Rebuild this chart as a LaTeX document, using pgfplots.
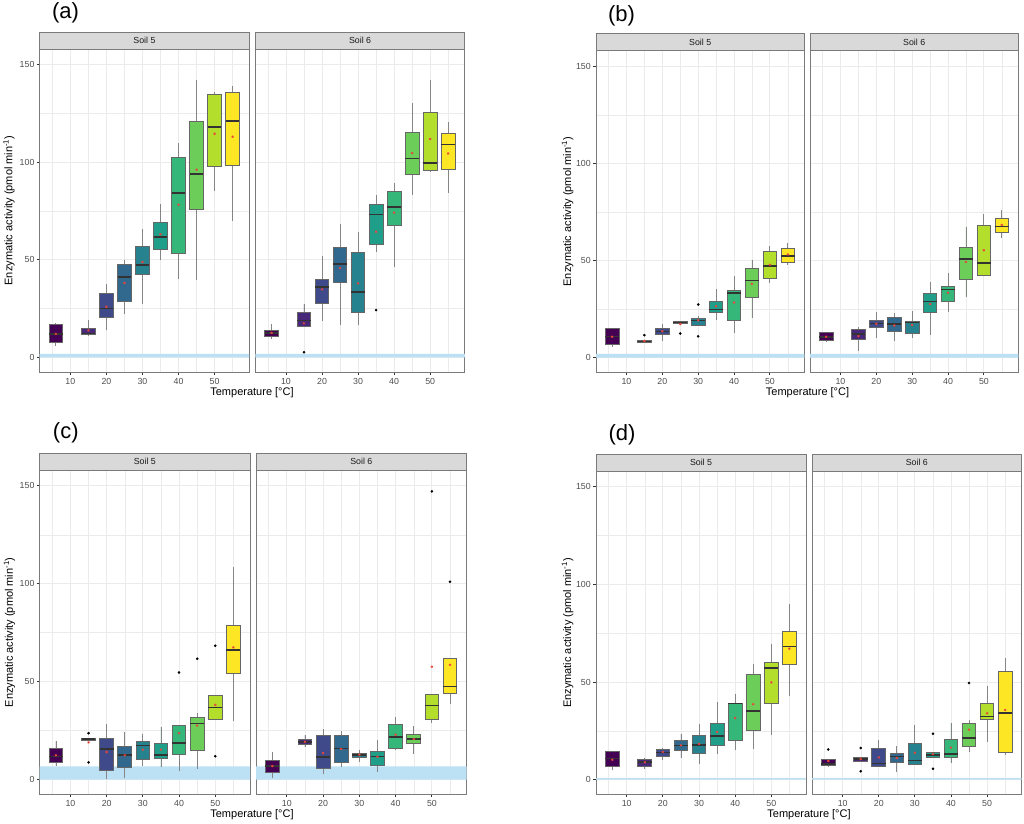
\documentclass[border=0pt]{standalone}
\usepackage{pgfplots}
\pgfplotsset{compat=1.18}
\usepgfplotslibrary{statistics}
\usepackage{fontspec}
\setmainfont{Liberation Sans}
\definecolor{v1}{HTML}{440154}
\definecolor{v2}{HTML}{482878}
\definecolor{v3}{HTML}{3E4A89}
\definecolor{v4}{HTML}{31688E}
\definecolor{v5}{HTML}{26828E}
\definecolor{v6}{HTML}{1F9E89}
\definecolor{v7}{HTML}{35B779}
\definecolor{v8}{HTML}{6DCD59}
\definecolor{v9}{HTML}{B4DE2C}
\definecolor{v10}{HTML}{FDE725}
\definecolor{gridc}{HTML}{EBEBEB}
\definecolor{framec}{HTML}{7A7A7A}
\definecolor{stripc}{HTML}{D9D9D9}
\definecolor{boxc}{HTML}{666666}
\definecolor{whc}{HTML}{858585}
\definecolor{medc}{HTML}{333333}
\definecolor{tickc}{HTML}{4D4D4D}
\definecolor{bandc}{HTML}{BDE1F4}
\definecolor{meanc}{HTML}{E8443A}
\pgfplotsset{
 facet/.style={
  scale only axis, width=209.5pt,
  xmin=1.5, xmax=59.6, ymin=-7.5, ymax=157.9,
  xtick={10,20,30,40,50}, ytick={0,50,100,150},
  minor xtick={5,15,25,35,45,55}, minor ytick={25,75,125},
  grid=both,
  major grid style={draw=gridc, line width=0.9pt},
  minor grid style={draw=gridc, line width=0.45pt},
  axis line style={draw=framec, line width=0.9pt},
  tick align=outside, xtick pos=bottom, ytick pos=left,
  major tick length=2.75pt, minor tick length=0pt,
  tick style={draw=medc, line width=0.8pt},
  ticklabel style={font=\fontsize{8.8}{10}\selectfont, text=tickc},
  yticklabel style={xshift=1pt},
  /pgf/number format/assume math mode=true,
  boxplot/draw direction=y,
  boxplot/box extend=3.8,
  boxplot/whisker extend=0,
  boxplot/every whisker/.style={draw=whc},
  boxplot/every median/.style={draw=medc, line width=1.6pt},
 },
 rightfacet/.style={yticklabel={\mbox{}}, ytick style={draw=none}},
}
\newcommand{\bx}[7]{\addplot[boxplot prepared={draw position=#1, lower whisker=#3, lower quartile=#4, median=#5, upper quartile=#6, upper whisker=#7}, fill=#2, draw=boxc, line width=0.9pt] coordinates {};}
\newcommand{\band}[1]{\addplot[draw=none, fill=bandc] coordinates {(1.5,0) (59.6,0) (59.6,#1) (1.5,#1) (1.5,0)};}
\newcommand{\means}[1]{\addplot[only marks, mark=asterisk, mark size=1.3pt, draw=meanc, line width=0.5pt] coordinates {#1};}
\newcommand{\outl}[1]{\addplot[only marks, mark=*, mark size=1.1pt, draw=black, fill=black] coordinates {#1};}
\newcommand{\strip}[2]{\draw[fill=stripc, draw=framec, line width=0.9pt] (#1.north west) rectangle ([yshift=17pt]#1.north east);
 \node[font=\fontsize{8.8}{10}\selectfont, text=black!90] at ([yshift=8.5pt]#1.north) {#2};}
\newcommand{\ylab}{Enzymatic activity (pmol min\textsuperscript{-1})}
\begin{document}
\begin{tikzpicture}
\path[use as bounding box] (0pt,0pt) rectangle (1024pt,823pt);
% ---------------- (a) ----------------
\begin{axis}[facet, name=aS5, height=323pt, at={(39.7pt,451pt)}, anchor=south west]
\band{1.8}
\bx{6}{v1}{6.0}{7.7}{12.1}{16.9}{17.4}
\bx{15}{v2}{10.9}{11.8}{12.3}{15.0}{18.9}
\bx{20}{v3}{13.8}{20.5}{25.1}{32.6}{37.4}
\bx{25}{v4}{22.2}{28.8}{41.1}{47.6}{49.7}
\bx{30}{v5}{27.5}{42.3}{47.3}{57.0}{65.7}
\bx{35}{v6}{50.0}{55.5}{61.6}{69.3}{78.3}
\bx{40}{v7}{39.9}{53.2}{84.3}{102.6}{109.7}
\bx{45}{v8}{39.6}{75.8}{94.0}{120.8}{142.1}
\bx{50}{v9}{85.0}{97.8}{118.1}{134.8}{136.1}
\bx{55}{v10}{70.0}{98.3}{121.1}{135.6}{139.2}
\means{(6,12) (15,13.8) (20,25.9) (25,38.1) (30,48.8) (35,63.0) (40,78.2) (45,96.1) (50,114.5) (55,113.0)}
\end{axis}
\strip{aS5}{Soil 5}
\begin{axis}[facet, rightfacet, name=aS6, height=323pt, at={(255.3pt,451pt)}, anchor=south west]
\band{1.8}
\bx{6}{v1}{9.2}{10.8}{12.5}{13.8}{16.9}
\bx{15}{v2}{16.0}{16.0}{18.8}{23.0}{27.1}
\bx{20}{v3}{18.6}{27.5}{36.0}{40.1}{51.7}
\bx{25}{v4}{16.4}{38.4}{47.8}{56.1}{68.1}
\bx{30}{v5}{16.4}{23.2}{33.6}{53.8}{64.0}
\bx{35}{v6}{53.9}{57.8}{73.2}{78.3}{83.3}
\bx{40}{v7}{46.1}{67.4}{77.1}{84.7}{89.3}
\bx{45}{v8}{83.3}{93.9}{101.9}{115.2}{130.2}
\bx{50}{v9}{95.1}{95.7}{99.5}{125.4}{142.2}
\bx{55}{v10}{84.2}{96.4}{109.0}{114.8}{120.4}
\outl{(15,2.6) (35,24.2)}
\means{(6,12.5) (15,17.4) (20,34.8) (25,45.7) (30,37.9) (35,64.3) (40,74.1) (45,104.6) (50,111.8) (55,104.4)}
\end{axis}
\strip{aS6}{Soil 6}
% ---------------- (b) ----------------
\begin{axis}[facet, name=bS5, height=321.5pt, at={(596pt,450.7pt)}, anchor=south west, width=208.3pt]
\band{2.0}
\bx{6}{v1}{5.7}{6.7}{11.0}{14.9}{14.9}
\bx{15}{v2}{7.9}{7.9}{8.4}{9.1}{9.1}
\bx{20}{v3}{8.6}{12.2}{13.5}{15.2}{17.5}
\bx{25}{v4}{17.5}{17.5}{18.2}{18.7}{18.7}
\bx{30}{v5}{16.8}{16.8}{19.2}{20.2}{21.4}
\bx{35}{v6}{19.2}{23.3}{24.8}{29.1}{35.1}
\bx{40}{v7}{12.5}{19.3}{33.4}{34.8}{42.0}
\bx{45}{v8}{20.2}{31.2}{39.7}{45.7}{50.5}
\bx{50}{v9}{38.4}{40.9}{47.1}{54.5}{57.7}
\bx{55}{v10}{47.6}{49.1}{52.2}{56.0}{59.1}
\outl{(15,11.6) (25,12.5) (30,27.4) (30,11.0)}
\means{(6,10.8) (15,8.6) (20,13.7) (25,17.3) (30,19.3) (35,26.5) (40,28.4) (45,38.0) (50,47.8) (55,53.1)}
\end{axis}
\strip{bS5}{Soil 5}
\begin{axis}[facet, rightfacet, name=bS6, height=321.5pt, at={(810pt,450.7pt)}, anchor=south west, width=208.3pt]
\band{2.0}
\bx{6}{v1}{8.4}{8.7}{10.8}{12.8}{12.8}
\bx{15}{v2}{3.3}{9.4}{12.3}{14.6}{15.8}
\bx{20}{v3}{10.4}{15.4}{17.6}{19.3}{23.5}
\bx{25}{v4}{8.6}{13.4}{17.5}{20.5}{23.1}
\bx{30}{v5}{10.3}{12.7}{18.2}{18.7}{24.0}
\bx{35}{v6}{11.6}{23.5}{28.9}{33.2}{39.0}
\bx{40}{v7}{23.5}{28.8}{35.1}{36.8}{43.7}
\bx{45}{v8}{31.2}{40.1}{50.7}{56.8}{67.3}
\bx{50}{v9}{42.5}{42.5}{48.8}{68.0}{74.0}
\bx{55}{v10}{61.5}{64.2}{67.6}{71.6}{76.0}
\means{(6,10.8) (15,11.1) (20,17.5) (25,16.6) (30,16.8) (35,27.6) (40,33.4) (45,49.3) (50,55.3) (55,68.3)}
\end{axis}
\strip{bS6}{Soil 6}
% ---------------- (c) ----------------
\begin{axis}[facet, name=cS5, height=324pt, at={(39.7pt,28.7pt)}, anchor=south west, width=210.3pt]
\band{6.8}
\bx{6}{v1}{7.1}{8.8}{11.9}{15.9}{19.8}
\bx{15}{v2}{20.0}{20.0}{20.7}{21.2}{21.2}
\bx{20}{v3}{0.3}{4.9}{15.6}{21.2}{28.5}
\bx{25}{v4}{0.8}{6.4}{12.5}{17.1}{24.1}
\bx{30}{v5}{6.9}{10.3}{17.5}{19.5}{23.4}
\bx{35}{v6}{6.3}{11.0}{12.5}{18.3}{26.8}
\bx{40}{v7}{4.2}{12.7}{18.8}{27.8}{27.8}
\bx{45}{v8}{5.4}{14.9}{28.6}{31.7}{33.9}
\bx{50}{v9}{30.7}{30.7}{36.9}{43.1}{43.1}
\bx{55}{v10}{29.7}{54.2}{66.1}{78.8}{108.5}
\outl{(15,23.7) (15,8.8) (40,54.7) (45,61.7) (50,68.3) (50,11.9)}
\means{(6,12.4) (15,19.0) (20,14.1) (25,12.4) (30,15.3) (35,15.3) (40,23.7) (45,27.6) (50,38.1) (55,67.5)}
\end{axis}
\strip{cS5}{Soil 5}
\begin{axis}[facet, rightfacet, name=cS6, height=324pt, at={(256pt,28.7pt)}, anchor=south west, width=210.7pt]
\band{6.8}
\bx{6}{v1}{0.8}{3.7}{6.9}{9.8}{14.2}
\bx{15}{v2}{16.4}{18.0}{19.3}{20.3}{22.7}
\bx{20}{v3}{2.7}{5.9}{11.4}{22.5}{25.8}
\bx{25}{v4}{6.3}{8.8}{15.8}{22.5}{24.6}
\bx{30}{v5}{9.2}{11.4}{12.5}{13.6}{15.3}
\bx{35}{v6}{3.7}{7.3}{11.9}{14.4}{20.3}
\bx{40}{v7}{14.9}{16.1}{21.7}{28.1}{32.2}
\bx{45}{v8}{13.1}{18.5}{20.7}{22.9}{27.6}
\bx{50}{v9}{28.8}{30.7}{37.8}{43.6}{43.6}
\bx{55}{v10}{38.6}{43.9}{47.5}{61.9}{61.9}
\outl{(50,147.1) (55,101.0)}
\means{(6,6.9) (15,19.3) (20,13.6) (25,15.6) (30,12.7) (35,11.7) (40,22.9) (45,20.7) (50,57.6) (55,58.6)}
\end{axis}
\strip{cS6}{Soil 6}
% ---------------- (d) ----------------
\begin{axis}[facet, name=dS5, height=323pt, at={(596pt,28.7pt)}, anchor=south west, width=210pt]
\band{0.8}
\bx{6}{v1}{4.8}{7.0}{10.9}{14.2}{14.2}
\bx{15}{v2}{5.5}{6.8}{8.9}{10.6}{11.1}
\bx{20}{v3}{9.9}{11.9}{14.0}{15.7}{16.4}
\bx{25}{v4}{11.3}{15.2}{17.4}{20.3}{23.5}
\bx{30}{v5}{7.8}{13.3}{17.9}{22.4}{28.3}
\bx{35}{v6}{13.0}{17.6}{22.4}{28.8}{39.9}
\bx{40}{v7}{15.0}{20.0}{39.1}{39.2}{44.0}
\bx{45}{v8}{15.7}{25.4}{35.2}{54.1}{59.0}
\bx{50}{v9}{22.7}{39.2}{57.2}{60.2}{69.3}
\bx{55}{v10}{42.7}{59.0}{68.1}{76.1}{90.1}
\means{(6,10.2) (15,8.9) (20,14.2) (25,17.6) (30,18.3) (35,24.4) (40,31.6) (45,38.6) (50,49.8) (55,67.1)}
\end{axis}
\strip{dS5}{Soil 5}
\begin{axis}[facet, rightfacet, name=dS6, height=323pt, at={(812pt,28.7pt)}, anchor=south west, width=209.7pt]
\band{0.8}
\bx{6}{v1}{6.5}{7.2}{8.0}{10.4}{10.4}
\bx{15}{v2}{9.4}{9.4}{10.6}{11.6}{11.6}
\bx{20}{v3}{6.8}{6.8}{8.2}{16.2}{20.5}
\bx{25}{v4}{3.8}{8.7}{11.9}{13.5}{17.2}
\bx{30}{v5}{7.7}{7.7}{9.9}{18.4}{28.2}
\bx{35}{v6}{11.6}{11.6}{12.6}{14.0}{14.0}
\bx{40}{v7}{8.5}{11.3}{13.0}{20.5}{29.0}
\bx{45}{v8}{14.2}{16.9}{21.2}{28.8}{30.4}
\bx{50}{v9}{19.3}{30.7}{32.4}{38.9}{48.0}
\bx{55}{v10}{12.5}{13.8}{34.0}{55.6}{62.3}
\outl{(6,15.5) (15,16.2) (15,4.3) (35,23.5) (35,5.6) (45,49.5)}
\means{(6,9.6) (15,10.6) (20,11.4) (25,11.1) (30,13.8) (35,13.1) (40,16.4) (45,25.6) (50,34.0) (55,35.7)}
\end{axis}
\strip{dS6}{Soil 6}
% ---------------- labels ----------------
\node[font=\fontsize{22}{24}\selectfont, anchor=base] at (65.5pt,804.6pt) {(a)};
\node[font=\fontsize{22}{24}\selectfont, anchor=base] at (621.5pt,801.6pt) {(b)};
\node[font=\fontsize{22}{24}\selectfont, anchor=base] at (65.8pt,384.6pt) {(c)};
\node[font=\fontsize{22}{24}\selectfont, anchor=base] at (622pt,382.6pt) {(d)};
\node[font=\fontsize{11}{13}\selectfont, rotate=90] at (9pt,612.5pt) {\ylab};
\node[font=\fontsize{11}{13}\selectfont, rotate=90] at (567.5pt,611.5pt) {\ylab};
\node[font=\fontsize{11}{13}\selectfont, rotate=90] at (9.5pt,190.7pt) {\ylab};
\node[font=\fontsize{11}{13}\selectfont, rotate=90] at (567.5pt,190pt) {\ylab};
\node[font=\fontsize{11}{13}\selectfont, anchor=base] at (252pt,427.5pt) {Temperature [°C]};
\node[font=\fontsize{11}{13}\selectfont, anchor=base] at (807.5pt,427.5pt) {Temperature [°C]};
\node[font=\fontsize{11}{13}\selectfont, anchor=base] at (252pt,5.4pt) {Temperature [°C]};
\node[font=\fontsize{11}{13}\selectfont, anchor=base] at (809pt,5.4pt) {Temperature [°C]};
\end{tikzpicture}
\end{document}
